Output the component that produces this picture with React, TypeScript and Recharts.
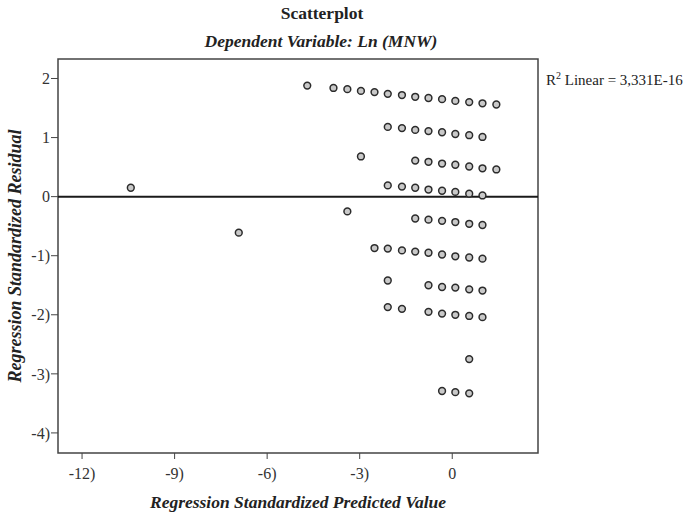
import { ScatterChart, Scatter, XAxis, YAxis, ReferenceLine, ReferenceArea } from "recharts";

const predictedValues = [
  -10.42, -6.92, -4.7,
  -3.85, -3.4, -2.96, -2.52, -2.09, -1.63, -1.2, -0.77, -0.33, 0.1, 0.55, 0.98, 1.43,
  -2.09, -1.63, -1.2, -0.77, -0.33, 0.1, 0.55, 0.98,
  -2.96,
  -1.2, -0.77, -0.33, 0.1, 0.55, 0.98, 1.43,
  -2.09, -1.63, -1.2, -0.77, -0.33, 0.1, 0.55, 0.98,
  -3.4,
  -1.2, -0.77, -0.33, 0.1, 0.55, 0.98,
  -2.52, -2.09, -1.63, -1.2, -0.77, -0.33, 0.1, 0.55, 0.98,
  -2.09, -0.77, -0.33, 0.1, 0.55, 0.98,
  -2.09, -1.63, -0.77, -0.33, 0.1, 0.55, 0.98,
  0.55,
  -0.33, 0.1, 0.55,
];

const residualValues = [
  0.15, -0.61, 1.88,
  1.84, 1.82, 1.79, 1.77, 1.74, 1.72, 1.69, 1.67, 1.65, 1.62, 1.6, 1.58, 1.56,
  1.18, 1.16, 1.13, 1.11, 1.09, 1.06, 1.04, 1.01,
  0.68,
  0.61, 0.59, 0.56, 0.54, 0.51, 0.48, 0.46,
  0.19, 0.17, 0.15, 0.12, 0.1, 0.08, 0.05, 0.02,
  -0.25,
  -0.37, -0.39, -0.41, -0.43, -0.46, -0.48,
  -0.87, -0.88, -0.91, -0.93, -0.95, -0.98, -1.01, -1.03, -1.05,
  -1.42, -1.5, -1.53, -1.54, -1.57, -1.59,
  -1.87, -1.9, -1.95, -1.98, -2.0, -2.02, -2.04,
  -2.75,
  -3.29, -3.31, -3.33,
];

const xTicks = [-12, -9, -6, -3, 0];
const xTickLabels = ["-12)", "-9)", "-6)", "-3)", "0"];
const yTicks = [2, 1, 0, -1, -2, -3, -4];
const yTickLabels = ["2", "1", "0", "-1)", "-2)", "-3)", "-4)"];

const X_DOMAIN: [number, number] = [-12.78, 2.78];
const Y_DOMAIN: [number, number] = [-4.34, 2.33];

const points = predictedValues.map((x, i) => ({ x, y: residualValues[i] }));

const SERIF = '"Liberation Serif", "DejaVu Serif", serif';
const tickStyle = { fill: "#333", fontSize: 16, fontFamily: SERIF };

const Dot = (p: any) => <circle cx={p.cx} cy={p.cy} r={3.4} fill="#c9c9c9" stroke="#2b2b2b" strokeWidth={1.5} />;

export default function App() {
  return (
    <div style={{ position: "absolute", left: 0, top: 0, width: 689, height: 514, background: "#fff", fontFamily: SERIF, color: "#222" }}>
      <div style={{ position: "absolute", left: 0, width: 644, top: 2, textAlign: "center", fontSize: 17.5, fontWeight: 700, lineHeight: "22px" }}>
        Scatterplot
      </div>
      <div style={{ position: "absolute", left: 0, width: 642, top: 30, textAlign: "center", fontSize: 17.5, fontWeight: 700, fontStyle: "italic", lineHeight: "22px" }}>
        Dependent Variable: Ln (MNW)
      </div>
      <ScatterChart width={689} height={514} margin={{ top: 59, right: 151, left: 8, bottom: 31 }}>
        <XAxis
          type="number"
          dataKey="x"
          domain={X_DOMAIN}
          ticks={xTicks}
          tickFormatter={(v: number) => xTickLabels[xTicks.indexOf(v)]}
          axisLine={false}
          tickLine={{ stroke: "#444" }}
          tickSize={6}
          tickMargin={9}
          tick={tickStyle}
          height={30}
          allowDataOverflow
        />
        <YAxis
          type="number"
          dataKey="y"
          domain={Y_DOMAIN}
          ticks={yTicks}
          tickFormatter={(v: number) => yTickLabels[yTicks.indexOf(v)]}
          axisLine={false}
          tickLine={{ stroke: "#444" }}
          tickSize={7}
          tickMargin={1}
          tick={tickStyle}
          width={50}
          allowDataOverflow
        />
        <ReferenceArea x1={X_DOMAIN[0]} x2={X_DOMAIN[1]} y1={Y_DOMAIN[0]} y2={Y_DOMAIN[1]} fill="none" stroke="#444" strokeWidth={1.5} fillOpacity={0} />
        <ReferenceLine y={0} stroke="#1a1a1a" strokeWidth={2} />
        <Scatter data={points} shape={Dot} isAnimationActive={false} />
      </ScatterChart>
      <div style={{ position: "absolute", left: 58, width: 480, top: 491, textAlign: "center", fontSize: 17.5, fontWeight: 700, fontStyle: "italic", lineHeight: "22px" }}>
        Regression Standardized Predicted Value
      </div>
      <div
        style={{
          position: "absolute",
          left: 15,
          top: 256,
          transform: "translate(-50%, -50%) rotate(-90deg)",
          whiteSpace: "nowrap",
          fontSize: 18,
          fontWeight: 700,
          fontStyle: "italic",
          lineHeight: "22px",
        }}
      >
        Regression Standardized Residual
      </div>
      <div style={{ position: "absolute", left: 546, top: 66, fontSize: 15, whiteSpace: "nowrap", lineHeight: "20px" }}>
        R<sup style={{ fontSize: 10 }}>2</sup> Linear = 3,331E-16
      </div>
    </div>
  );
}
